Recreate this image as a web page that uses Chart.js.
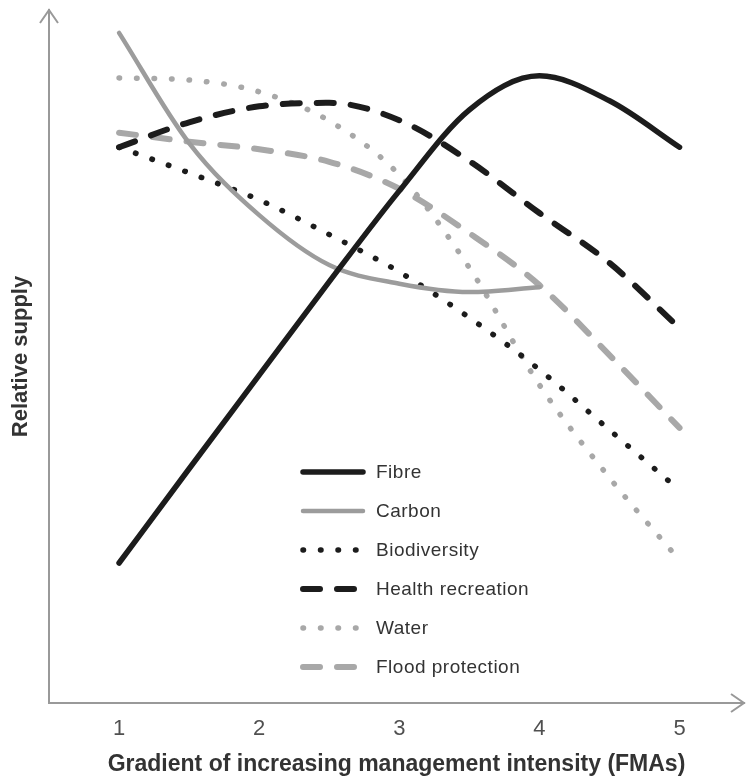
<!DOCTYPE html>
<html>
<head>
<meta charset="utf-8">
<script src="https://cdn.jsdelivr.net/npm/chart.js@4/dist/chart.umd.min.js"></script>
<style>
  body { margin: 0; background: #fff; }
  #wrap { position: relative; width: 746px; height: 778px; }
  #legend { position: absolute; left: 300px; top: 452px; font: 19px "Liberation Sans", Arial, sans-serif; letter-spacing: 0.5px; color: #333; }
  #legend div { height: 39px; display: flex; align-items: center; }
  #legend svg { margin-right: 10px; }
</style>
</head>
<body>
<div id="wrap">
  <canvas id="supplyChart" width="746" height="778"></canvas>
  <div id="legend"></div>
</div>
<script>
var xValues = [1, 1.5, 2, 2.5, 3, 3.5, 4, 4.5, 5];
var xTicks = [1, 2, 3, 4, 5];

var fibre = [20.2, 33.8, 47.3, 60.8, 73.9, 85.6, 90.5, 86.9, 80.2];
var carbon = [96.7, 80.8, 70.4, 63.2, 60.5, 59.3, 60.0, null, null];
var biodiversity = [80.2, 76.5, 72.6, 67.6, 62.2, 55.6, 48.1, 39.4, 30.7];
var healthRecreation = [80.2, 83.8, 86.1, 86.6, 84.1, 78.2, 70.7, 63.5, 54.1];
var water = [90.2, 89.9, 88.2, 84.0, 76.2, 62.8, 45.9, 32.5, 20.6];
var floodProtection = [82.3, 81.0, 79.9, 78.1, 74.2, 67.8, 60.3, 50.2, 39.7];

var names = ["Fibre", "Carbon", "Biodiversity", "Health recreation", "Water", "Flood protection"];
var series = [fibre, carbon, biodiversity, healthRecreation, water, floodProtection];
var colours = ["#1c1c1c", "#9c9c9c", "#1c1c1c", "#1c1c1c", "#a8a8a8", "#a8a8a8"];
var widths = [5.5, 4.5, 5.5, 6, 5.5, 6];
var dashes = [[], [], [0.5, 17], [17, 17], [0.5, 17], [17, 17]];

function pts(arr) {
    return arr.map(function (v, i) { return { x: xValues[i], y: v }; });
}

var datasets = names.map(function (n, i) {
    return {
        label: n,
        data: pts(series[i]),
        borderColor: colours[i],
        borderWidth: widths[i],
        borderDash: dashes[i],
        borderCapStyle: 'round',
        borderJoinStyle: 'round',
        pointRadius: 0,
        fill: false,
        cubicInterpolationMode: 'monotone'
    };
});

// arrow heads on the ends of the two axes
var arrows = {
    id: 'arrows',
    afterDraw: function (chart) {
        var a = chart.chartArea, ctx = chart.ctx;
        ctx.save();
        ctx.strokeStyle = '#999';
        ctx.lineWidth = 2;
        ctx.beginPath();
        ctx.moveTo(a.left - 9, a.top + 13);
        ctx.lineTo(a.left, a.top);
        ctx.lineTo(a.left + 9, a.top + 13);
        ctx.moveTo(a.right - 13, a.bottom - 9);
        ctx.lineTo(a.right, a.bottom);
        ctx.lineTo(a.right - 13, a.bottom + 9);
        ctx.stroke();
        ctx.restore();
    }
};

var font = "'Liberation Sans', Arial, sans-serif";
var chart = new Chart(document.getElementById('supplyChart').getContext('2d'), {
    type: 'line',
    data: { datasets: datasets },
    plugins: [arrows],
    options: {
        responsive: false,
        animation: false,
        layout: { padding: { top: 10, right: 2, bottom: 0, left: 0 } },
        plugins: { legend: { display: false }, tooltip: { enabled: false } },
        scales: {
            x: {
                type: 'linear',
                min: 0.5,
                max: 5.46,
                grid: { display: false },
                border: { display: true, color: '#999', width: 2 },
                afterBuildTicks: function (s) { s.ticks = xTicks.map(function (v) { return { value: v }; }); },
                afterFit: function (s) { s.height = 75; },
                ticks: { color: '#505050', padding: 5, font: { family: font, size: 22 } },
                title: {
                    display: true,
                    text: 'Gradient of increasing management intensity (FMAs)',
                    color: '#333',
                    padding: { top: 0, bottom: 0 },
                    font: { family: font, size: 23, weight: 'bold' }
                }
            },
            y: {
                min: 0,
                max: 100,
                grid: { display: false },
                border: { display: true, color: '#999', width: 2 },
                ticks: { display: false },
                afterFit: function (s) { s.width = 49; },
                title: {
                    display: true,
                    text: 'Relative supply',
                    color: '#333',
                    padding: { top: 8, bottom: 0 },
                    font: { family: font, size: 22, weight: 'bold' }
                }
            }
        }
    }
});

// legend inside the plot, built from the datasets
var legend = document.getElementById('legend');
chart.data.datasets.forEach(function (d) {
    var row = document.createElement('div');
    var dash = d.borderDash.length ? ' stroke-dasharray="' + d.borderDash.join(' ') + '"' : '';
    row.innerHTML = '<svg width="66" height="12"><line x1="3" y1="6" x2="63" y2="6" stroke="' + d.borderColor +
        '" stroke-width="' + d.borderWidth + '" stroke-linecap="round"' + dash + '/></svg><span>' + d.label + '</span>';
    legend.appendChild(row);
});
</script>
</body>
</html>
